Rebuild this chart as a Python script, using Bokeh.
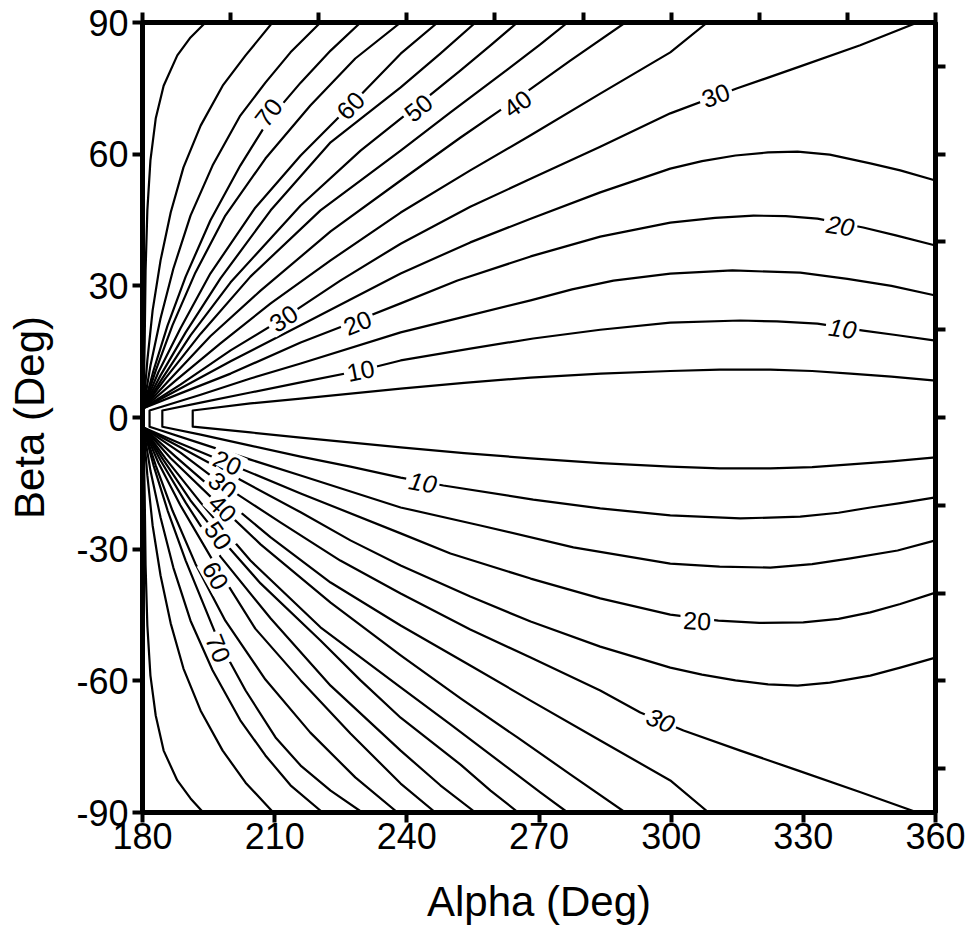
from bokeh.plotting import figure
from bokeh.models import LinearAxis, FixedTicker, Range1d, ColumnDataSource
from bokeh.embed import file_html
from bokeh.resources import INLINE
from bokeh.core.properties import value

# ---------------- data ----------------
alpha_ticks = [180, 210, 240, 270, 300, 330, 360]
beta_ticks = [-90, -60, -30, 0, 30, 60, 90]
top_ticks = [180, 200, 220, 240, 260, 280, 300, 320, 340, 360]
right_ticks = [-80, -60, -40, -20, 0, 20, 40, 60, 80]

# closed levels 5, 10, 15 (upper branch -> lower branch)
L05_alpha = [360, 350, 340.7, 332, 322.5, 311, 299.8, 284, 268.1, 253, 238.6, 215.9, 204.5, 191.4,
             191.4, 204.5, 215.9, 238.6, 253, 268.1, 284, 299.8, 311, 322.5, 332, 340.7, 350, 360]
L05_beta = [8.4, 9.3, 10.0, 10.6, 10.9, 10.9, 10.6, 10.0, 9.1, 7.9, 6.6, 4.3, 3.2, 1.6,
            -2.1, -3.4, -4.6, -6.8, -8.1, -9.3, -10.4, -11.2, -11.6, -11.6, -11.3, -10.7, -10.0, -9.1]
L10_alpha = [360, 351, 343.6, 333.2, 324, 315.7, 299.8, 283.9, 268.7, 254.4, 238.6, 229.5, 215.9, 204.5, 193.2, 184.5,
             184.5, 193.2, 204.5, 215.9, 227.2, 238.6, 248.3, 268.7, 283.9, 299.8, 315.7, 329.3, 338, 345.2, 352, 360]
L10_beta = [17.5, 18.8, 19.8, 21.4, 21.9, 22.1, 21.6, 20.0, 18.0, 15.7, 13.0, 10.7, 8.0, 5.7, 3.4, 1.6,
            -2.1, -3.9, -6.4, -8.9, -11.2, -13.7, -15.5, -18.7, -20.7, -22.3, -23.0, -22.6, -21.7, -20.5, -19.5, -18.2]
L15_alpha = [360, 350, 340, 329.3, 313.9, 299.8, 286.9, 277.5, 268.1, 251.5, 238.6, 215.9, 204.5, 193.2, 181.6,
             181.6, 193.2, 204.5, 215.9, 238.6, 256.7, 277.8, 299.8, 311, 322.5, 332, 340.7, 351.4, 360]
L15_beta = [27.8, 30.0, 31.6, 33.0, 33.5, 32.8, 31.2, 29.2, 26.7, 22.6, 19.4, 12.3, 8.9, 5.2, 1.6,
            -2.1, -5.9, -9.6, -13.2, -20.5, -24.6, -29.6, -33.3, -34.0, -34.2, -33.4, -32.1, -30.3, -28.0]

# open levels: upper (u) and lower (l) branches
L20u_alpha = [180.2, 188.6, 200.0, 215.9, 228.8, 238.6, 251.5, 268.1, 283.9, 299.8, 310, 318.7, 326, 333.2, 343.6, 351, 360]
L20u_beta = [2.1, 5.5, 10.0, 17.1, 22.1, 26.0, 31.2, 36.7, 41.2, 44.4, 45.5, 46.0, 45.9, 45.3, 43.3, 41.5, 39.2]
L20l_alpha = [180.2, 188.6, 199.1, 215.9, 238.6, 249.9, 268.1, 283.9, 299.8, 310.7, 320, 330.0, 338, 345.2, 352, 360]
L20l_beta = [-2.3, -5.9, -10.3, -17.3, -26.4, -31.0, -36.7, -41.2, -44.9, -46.3, -46.8, -46.7, -45.9, -44.4, -42.5, -39.9]

L25u_alpha = [180.2, 188.6, 200.0, 215.9, 227.2, 238.6, 254.4, 268.1, 283.9, 299.8, 307, 314.6, 322, 328.7, 336, 345.2, 352, 360]
L25u_beta = [2.1, 6.6, 12.8, 21.0, 26.9, 32.8, 39.9, 45.3, 51.3, 56.7, 58.4, 59.7, 60.4, 60.6, 59.9, 57.9, 56.3, 54.0]
L25l_alpha = [180.2, 188.6, 200.0, 215.9, 227.2, 238.6, 254.4, 268.1, 283.9, 299.8, 307, 314.6, 322, 328.7, 336, 345.2, 352, 360]
L25l_beta = [-2.3, -6.8, -13.0, -21.6, -28.0, -33.7, -40.8, -46.5, -52.2, -57.0, -58.6, -59.9, -60.8, -61.1, -60.4, -58.8, -57.0, -54.7]

L30u_alpha = [180.2, 188.6, 200.0, 212.0, 224.9, 238.6, 254.4, 268.1, 283.9, 299.8, 315.0, 329.3, 342.9, 355.9]
L30u_beta = [2.1, 7.5, 15.3, 22.6, 31.2, 39.6, 48.0, 54.4, 61.7, 69.3, 75.0, 80.0, 84.8, 90.0]
L30l_alpha = [180.2, 188.6, 198.2, 211.3, 224.9, 238.6, 254.4, 268.1, 283.9, 293.0, 302.8, 315.7, 328.7, 343.0, 355.9]
L30l_beta = [-2.3, -8.0, -15.3, -23.9, -32.6, -40.1, -48.3, -54.7, -62.2, -67.2, -71.3, -75.9, -80.4, -85.4, -90.0]

L35u_alpha = [180.2, 187.5, 197.7, 209.1, 222.7, 238.6, 254.4, 268.1, 283.9, 299.8, 308.2]
L35u_beta = [2.1, 8.4, 16.9, 26.0, 35.8, 46.7, 56.3, 64.3, 73.8, 83.2, 90.0]
L35l_alpha = [180.2, 187.5, 197.7, 209.1, 222.7, 238.6, 254.4, 268.1, 283.9, 299.8, 308.5]
L35l_beta = [-2.3, -8.9, -17.8, -27.3, -37.6, -47.4, -56.5, -64.5, -73.6, -82.7, -90.0]

L40u_alpha = [180.2, 186.4, 195.4, 206.8, 222.7, 238.6, 252.2, 265.1, 277.1, 289.6]
L40u_beta = [2.1, 8.9, 18.5, 28.9, 42.4, 54.0, 63.8, 72.7, 81.3, 90.0]
L40l_alpha = [180.2, 186.4, 198.2, 206.8, 222.7, 238.6, 252.2, 265.1, 277.1, 289.6]
L40l_beta = [-2.3, -9.3, -20.7, -28.9, -42.2, -54.2, -64.0, -72.9, -81.3, -90.0]

L45u_alpha = [180.2, 185.2, 193.2, 204.5, 220.4, 238.6, 249.9, 261.3, 270.3, 276.5]
L45u_beta = [2.1, 8.9, 19.1, 32.1, 47.2, 60.8, 69.5, 78.1, 85.0, 90.0]
L45l_alpha = [180.2, 185.2, 193.2, 204.5, 220.4, 238.6, 249.9, 261.3, 270.3, 276.5]
L45l_beta = [-2.3, -9.3, -19.4, -32.6, -47.8, -61.5, -69.9, -78.6, -85.4, -90.0]

L50u_alpha = [180.2, 184.5, 190.9, 200.0, 215.9, 229.5, 242.6, 252.2, 259.0, 265.1]
L50u_beta = [2.1, 8.9, 18.7, 30.8, 48.3, 60.8, 71.3, 79.1, 84.8, 90.0]
L50l_alpha = [180.2, 184.5, 190.9, 197.2, 206.8, 220.4, 229.5, 238.6, 252.2, 259.0, 265.3]
L50l_beta = [-2.3, -9.3, -18.9, -26.9, -37.8, -50.8, -59.9, -68.4, -79.1, -85.0, -90.0]

L55u_alpha = [180.2, 184.1, 189.8, 197.7, 209.1, 222.7, 238.6, 247.6, 255.6]
L55u_beta = [2.1, 9.6, 19.4, 31.7, 47.2, 62.7, 75.2, 82.9, 90.0]
L55l_alpha = [180.2, 184.1, 189.8, 197.7, 209.1, 222.7, 238.6, 247.6, 255.6]
L55l_beta = [-2.3, -9.8, -19.4, -31.7, -45.8, -61.1, -75.9, -83.8, -90.0]

L60u_alpha = [180.2, 183.6, 188.6, 195.4, 205.6, 215.9, 227.2, 238.6, 247.0]
L60u_beta = [2.1, 10.3, 20.3, 32.8, 47.8, 59.7, 71.1, 82.9, 90.0]
L60l_alpha = [180.2, 183.6, 188.6, 196.6, 205.6, 215.9, 227.2, 238.6, 246.5]
L60l_beta = [-2.3, -10.3, -20.0, -33.7, -48.1, -59.9, -72.0, -83.4, -90.0]

L65u_alpha = [180.2, 183.0, 186.8, 192.0, 198.8, 207.9, 218.1, 228.3, 238.6]
L65u_beta = [2.1, 10.7, 21.0, 33.0, 46.0, 59.0, 71.1, 81.8, 90.0]
L65l_alpha = [180.2, 183.0, 186.8, 192.0, 198.8, 207.9, 218.1, 228.3, 237.9]
L65l_beta = [-2.3, -10.9, -21.2, -33.3, -46.3, -59.7, -71.8, -82.0, -90.0]

L70u_alpha = [180.2, 182.5, 185.7, 189.8, 195.4, 202.2, 208.6, 215.9, 222.7, 229.5]
L70u_beta = [2.1, 10.7, 21.0, 32.1, 44.9, 57.4, 67.7, 76.3, 83.6, 90.0]
L70l_alpha = [180.2, 182.5, 185.7, 189.8, 197.2, 203.4, 210.2, 215.9, 222.7, 229.9]
L70l_beta = [-2.3, -10.9, -21.2, -32.6, -50.8, -62.2, -72.9, -79.3, -85.0, -90.0]

L75u_alpha = [180.2, 181.8, 184.1, 187.0, 190.9, 195.9, 202.2, 207.9, 213.6, 220.4]
L75u_beta = [2.1, 11.8, 22.6, 33.9, 46.0, 57.4, 68.8, 76.3, 83.2, 90.0]
L75l_alpha = [180.2, 181.8, 184.1, 187.0, 190.9, 195.9, 202.2, 207.9, 213.6, 220.9]
L75l_beta = [-2.3, -12.1, -22.8, -34.2, -46.3, -57.6, -69.0, -77.0, -83.8, -90.0]

L80u_alpha = [180.2, 181.1, 182.3, 184.1, 186.4, 189.3, 193.2, 198.2, 203.4, 209.5]
L80u_beta = [2.1, 13.0, 24.4, 35.8, 46.7, 57.0, 66.5, 75.6, 82.5, 90.0]
L80l_alpha = [180.2, 181.1, 182.3, 184.1, 186.4, 189.3, 193.2, 198.2, 203.4, 209.7]
L80l_beta = [-2.3, -13.2, -24.6, -36.0, -46.9, -57.2, -66.8, -75.9, -83.2, -90.0]

L85u_alpha = [180.2, 180.5, 180.7, 181.1, 181.8, 183.0, 184.8, 187.9, 190.9, 194.3]
L85u_beta = [2.1, 17.5, 33.5, 47.2, 58.6, 68.1, 75.6, 82.5, 86.6, 90.0]
L85l_alpha = [180.2, 180.5, 180.7, 181.1, 181.8, 183.0, 184.8, 187.9, 190.9, 193.8]
L85l_beta = [-2.3, -17.8, -33.7, -47.4, -58.8, -67.9, -75.9, -82.7, -86.8, -90.0]

# contour labels (upright ones, then slanted ones)
label_text = ["70", "60", "50", "40", "30", "30", "20", "10",
              "20", "30", "40", "50", "60", "70", "20"]
label_alpha = [208.6, 227.2, 242.6, 265.1, 310.1, 212.0, 228.8, 229.5,
               199.3, 198.2, 198.2, 197.2, 196.6, 197.2, 305.9]
label_beta = [69.5, 71.1, 70.6, 71.5, 73.4, 22.6, 21.6, 10.7,
              -10.3, -15.5, -20.7, -26.9, -36.0, -52.6, -46.3]
label_angle = [52, 46, 39, 35, 20, 33, 22, 11,
               -25, -38, -45, -55, -60, -68, -3]

slant_text = ["20", "10", "10", "30"]
slant_alpha = [338.4, 338.9, 243.6, 297.6]
slant_beta = [43.7, 20.3, -14.8, -69.0]
slant_angle = [-9, -8, -10, -23]

# ---------------- figure ----------------
FONT = "Liberation Sans"

p = figure(width=968, height=940, x_range=Range1d(180, 360), y_range=Range1d(-90, 90),
           output_backend="svg", toolbar_location=None,
           min_border_left=142, min_border_right=33, min_border_top=22, min_border_bottom=128,
           x_axis_label="Alpha (Deg)", y_axis_label="Beta (Deg)")
p.xgrid.visible = False
p.ygrid.visible = False
p.outline_line_color = "black"
p.outline_line_width = 5
p.background_fill_color = "white"
p.border_fill_color = "white"

bottom_axis = p.below[0]
left_axis = p.left[0]
bottom_axis.ticker = FixedTicker(ticks=alpha_ticks)
left_axis.ticker = FixedTicker(ticks=beta_ticks)
left_axis.major_label_overrides = {t: str(t) for t in beta_ticks}

top_axis = LinearAxis(ticker=FixedTicker(ticks=top_ticks))
right_axis = LinearAxis(ticker=FixedTicker(ticks=right_ticks))
p.add_layout(top_axis, "above")
p.add_layout(right_axis, "right")

for ax in [bottom_axis, left_axis, top_axis, right_axis]:
    ax.axis_line_width = 5
    ax.axis_line_color = "black"
    ax.major_tick_line_width = 4
    ax.major_tick_line_color = "black"
    ax.major_tick_out = 10
    ax.major_tick_in = 0
    ax.minor_tick_out = 0
    ax.minor_tick_in = 0
    ax.major_label_text_font = FONT
    ax.major_label_text_color = "black"
    ax.axis_label_text_font = FONT
    ax.axis_label_text_font_style = "normal"
    ax.axis_label_text_color = "black"

for ax in [bottom_axis, left_axis]:
    ax.major_label_text_font_size = "36px"
    ax.axis_label_text_font_size = "42px"

bottom_axis.major_label_standoff = 0
bottom_axis.axis_label_standoff = 26
left_axis.major_label_standoff = 4
left_axis.axis_label_standoff = 20

top_axis.major_label_overrides = {t: "" for t in top_ticks}
right_axis.major_label_overrides = {t: "" for t in right_ticks}
for ax in [top_axis, right_axis]:
    ax.major_label_text_font_size = "0px"
    ax.major_label_standoff = 0

xs = [L05_alpha, L10_alpha, L15_alpha,
      L20u_alpha, L20l_alpha, L25u_alpha, L25l_alpha, L30u_alpha, L30l_alpha,
      L35u_alpha, L35l_alpha, L40u_alpha, L40l_alpha, L45u_alpha, L45l_alpha,
      L50u_alpha, L50l_alpha, L55u_alpha, L55l_alpha, L60u_alpha, L60l_alpha,
      L65u_alpha, L65l_alpha, L70u_alpha, L70l_alpha, L75u_alpha, L75l_alpha,
      L80u_alpha, L80l_alpha, L85u_alpha, L85l_alpha]
ys = [L05_beta, L10_beta, L15_beta,
      L20u_beta, L20l_beta, L25u_beta, L25l_beta, L30u_beta, L30l_beta,
      L35u_beta, L35l_beta, L40u_beta, L40l_beta, L45u_beta, L45l_beta,
      L50u_beta, L50l_beta, L55u_beta, L55l_beta, L60u_beta, L60l_beta,
      L65u_beta, L65l_beta, L70u_beta, L70l_beta, L75u_beta, L75l_beta,
      L80u_beta, L80l_beta, L85u_beta, L85l_beta]
p.multi_line(xs=xs, ys=ys, line_color="black", line_width=2.2, line_join="round")

src = ColumnDataSource(dict(x=label_alpha, y=label_beta, text=label_text, angle=label_angle))
p.text(x="x", y="y", text="text", angle="angle", angle_units="deg", source=src,
       text_font=value(FONT), text_font_size="25px", text_color="black",
       text_align="center", text_baseline="middle",
       background_fill_color="white", padding=3)

src2 = ColumnDataSource(dict(x=slant_alpha, y=slant_beta, text=slant_text, angle=slant_angle))
p.text(x="x", y="y", text="text", angle="angle", angle_units="deg", source=src2,
       text_font=value(FONT), text_font_size="25px", text_font_style="italic", text_color="black",
       text_align="center", text_baseline="middle",
       background_fill_color="white", padding=3)

open("out.html", "w").write(file_html(p, INLINE))
